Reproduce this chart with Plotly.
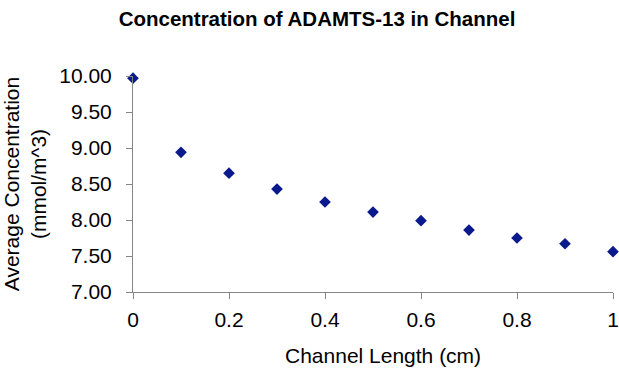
import plotly.graph_objects as go

channel_length = [0, 0.1, 0.2, 0.3, 0.4, 0.5, 0.6, 0.7, 0.8, 0.9, 1.0]
avg_concentration = [9.97, 8.94, 8.65, 8.43, 8.25, 8.11, 7.99, 7.86, 7.75, 7.67, 7.56]

x_ticks = [0, 0.2, 0.4, 0.6, 0.8, 1]
x_tick_labels = ["0", "0.2", "0.4", "0.6", "0.8", "1"]
y_ticks = [7.0, 7.5, 8.0, 8.5, 9.0, 9.5, 10.0]

FONT = "Liberation Sans, Arial, sans-serif"

fig = go.Figure(go.Scatter(
    x=channel_length, y=avg_concentration, mode="markers",
    marker=dict(symbol="diamond", size=9, color="#0a1a8c"),
    cliponaxis=False, showlegend=False,
))

fig.update_layout(
    width=619, height=371,
    margin=dict(l=133, r=6, t=76, b=79, autoexpand=False),
    paper_bgcolor="white", plot_bgcolor="white",
    font=dict(family=FONT, color="black"),
    title=dict(text="<b>Concentration of ADAMTS-13 in Channel</b>",
               font=dict(size=20.5, family=FONT, color="black"),
               x=317 / 619, xref="container", xanchor="center",
               y=1 - 19 / 371, yref="container", yanchor="middle"),
    annotations=[dict(
        text="Channel Length (cm)", font=dict(size=21, family=FONT, color="black"),
        xref="paper", yref="paper", x=(383 - 133) / 480, y=-(355 - 292) / 216,
        xanchor="center", yanchor="middle", showarrow=False,
    )],
)
fig.update_xaxes(
    range=[0, 1], tickvals=x_ticks, ticktext=x_tick_labels, automargin=False,
    showgrid=False, zeroline=False, showline=True, linecolor="#868686", linewidth=1,
    ticks="outside", ticklen=6, tickcolor="#868686",
    tickfont=dict(size=21, family=FONT), ticklabelstandoff=3,
)
fig.update_yaxes(
    range=[7, 10], tickvals=y_ticks, tickformat=".2f", automargin=False,
    showgrid=False, zeroline=False, showline=True, linecolor="#868686", linewidth=1,
    ticks="outside", ticklen=6, tickcolor="#868686",
    tickfont=dict(size=21, family=FONT), ticklabelstandoff=10,
    title=dict(text="Average Concentration<br>(mmol/m^3)", font=dict(size=21, family=FONT), standoff=10),
)

fig.write_html("out.html")
